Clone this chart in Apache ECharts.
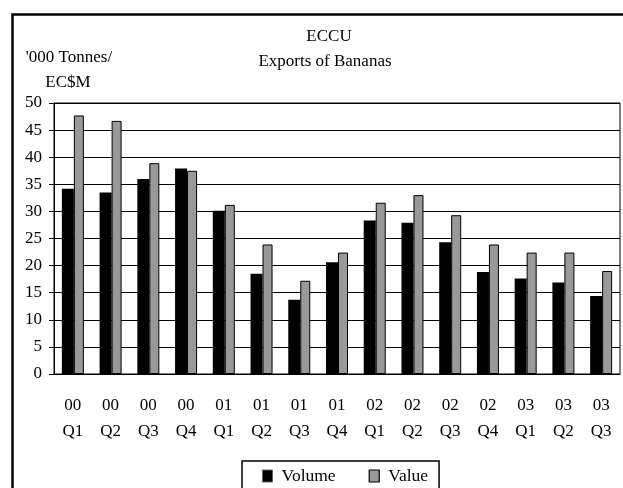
<!DOCTYPE html>
<html>
<head>
<meta charset="utf-8">
<script src="https://cdn.jsdelivr.net/npm/echarts@6/dist/echarts.min.js"></script>
<style>
  html, body { margin: 0; padding: 0; background: #fff; }
  #chart { width: 623px; height: 488px; }
</style>
</head>
<body>
<div id="chart"></div>
<script>
// Quarterly banana exports for the ECCU
const quarters = ['00\nQ1', '00\nQ2', '00\nQ3', '00\nQ4', '01\nQ1', '01\nQ2', '01\nQ3', '01\nQ4',
                  '02\nQ1', '02\nQ2', '02\nQ3', '02\nQ4', '03\nQ1', '03\nQ2', '03\nQ3'];
const volume = [34.2, 33.5, 36.0, 37.9, 30.1, 18.5, 13.7, 20.6, 28.3, 27.9, 24.3, 18.8, 17.6, 16.9, 14.4];
const value  = [47.7, 46.7, 38.9, 37.5, 31.2, 23.9, 17.2, 22.4, 31.6, 33.0, 29.3, 23.9, 22.4, 22.4, 19.0];
const yTicks = [0, 5, 10, 15, 20, 25, 30, 35, 40, 45, 50];

const FONT = '"Liberation Serif", "Times New Roman", serif';
const chart = echarts.init(document.getElementById('chart'));

chart.setOption({
  backgroundColor: '#fff',
  animation: false,
  grid: {
    left: 54, top: 103, width: 566, height: 271,
    show: true, borderColor: '#000', borderWidth: 1, backgroundColor: 'transparent'
  },
  xAxis: {
    type: 'category',
    data: quarters,
    axisLine: { lineStyle: { color: '#000', width: 1 } },
    axisTick: { length: 6, lineStyle: { color: '#000' } },
    axisLabel: {
      margin: 19, color: '#000', fontFamily: FONT, fontSize: 17, lineHeight: 26
    }
  },
  yAxis: {
    type: 'value',
    min: yTicks[0], max: yTicks[yTicks.length - 1], interval: 5,
    axisLine: { show: true, lineStyle: { color: '#000', width: 1 } },
    axisTick: { show: true, length: 5, lineStyle: { color: '#000' } },
    splitLine: { lineStyle: { color: '#000', width: 1 } },
    axisLabel: { margin: 12, color: '#000', fontFamily: FONT, fontSize: 17 }
  },
  legend: {
    left: 242, top: 461,
    padding: [6, 11, 20, 20],
    itemGap: 33, itemWidth: 10, itemHeight: 12,
    icon: 'rect',
    borderColor: '#000', borderWidth: 1.5,
    textStyle: { color: '#000', fontFamily: FONT, fontSize: 17.5, padding: [0, 0, 0, 4] },
    data: [
      { name: 'Volume', itemStyle: { color: '#000', borderColor: '#666', borderWidth: 1 } },
      { name: 'Value', itemStyle: { color: '#999', borderColor: '#000', borderWidth: 1.2 } }
    ]
  },
  graphic: [
    { type: 'rect', shape: { x: 12.5, y: 14.5, width: 640, height: 500 },
      style: { fill: 'none', stroke: '#000', lineWidth: 2.5 }, silent: true, z: 100 },
    { type: 'text', x: 329, y: 37, style: { text: 'ECCU', font: '17px ' + FONT, fill: '#000', align: 'center', verticalAlign: 'middle' } },
    { type: 'text', x: 325, y: 61.5, style: { text: 'Exports of Bananas', font: '17px ' + FONT, fill: '#000', align: 'center', verticalAlign: 'middle' } },
    { type: 'text', x: 69, y: 58, style: { text: "'000 Tonnes/", font: '17px ' + FONT, fill: '#000', align: 'center', verticalAlign: 'middle' } },
    { type: 'text', x: 68, y: 83, style: { text: 'EC$M', font: '17px ' + FONT, fill: '#000', align: 'center', verticalAlign: 'middle' } }
  ],
  series: [
    {
      name: 'Volume', type: 'bar', data: volume,
      barWidth: 12, barGap: '0%',
      itemStyle: { color: '#000' }
    },
    {
      name: 'Value', type: 'bar', data: value,
      barWidth: 10, barGap: '0%',
      itemStyle: { color: '#999', borderColor: '#000', borderWidth: 1 }
    }
  ]
});
</script>
</body>
</html>
